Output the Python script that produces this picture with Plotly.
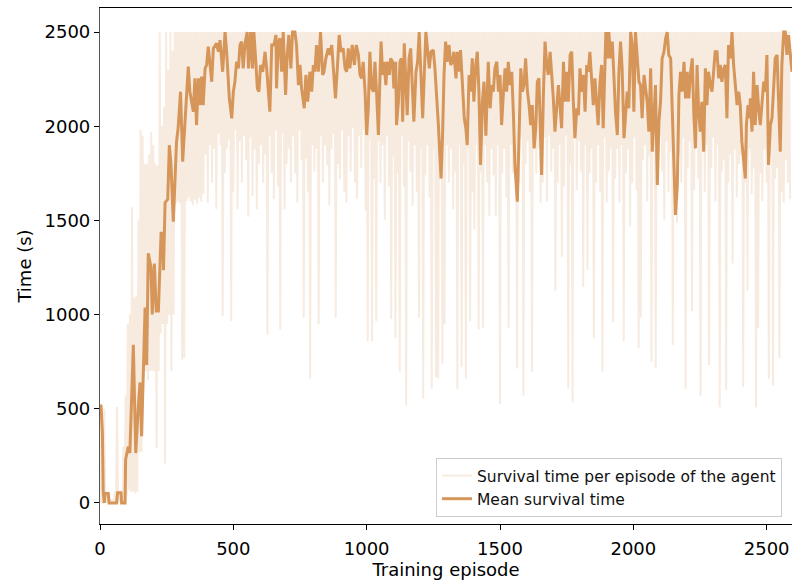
import plotly.graph_objects as go

# ---------------- data ----------------
CAP = 2500          # survival time is capped at 2500 s
BIN = 8             # episodes per raw-data bin

# per-bin maximum of the raw survival time for the first bins (afterwards = CAP)
raw_high_early = [520, 60, 500, 60, 30, 20, 20, 60, 510, 60,
                  60, 300, 570, 950, 1000, 1570, 1090, 1100, 1500, 1980,
                  1950, 1800, 1800, 1850, 1970, 1900, 1800, 1790, 2500, 2000,
                  2100, 2500, 2300, 2500, 2400, 2500]

# per-bin minimum of the raw survival time
raw_low = [
    0, 0, 0, 0, 0, 0, 0, 0, 0, 0,
    0, 0, 40, 70, 60, 60, 50, 60, 270, 270,
    700, 700, 650, 700, 700, 700, 290, 700, 900, 950,
    210, 950, 1000, 700, 1000, 1590, 1600, 1590, 760, 770,
    1600, 1620, 1600, 1580, 1610, 1590, 1620, 1600, 1640, 1850,
    1594, 1900, 1700, 1880, 1560, 1960, 1900, 992, 1750, 1880,
    1930, 965, 1650, 1980, 1558, 1920, 1700, 1950, 1820, 1520,
    1940, 1630, 1880, 1558, 1800, 1900, 1700, 1850, 894, 1950,
    1750, 1612, 1980, 1680, 921, 1960, 1558, 1800, 1880, 1700,
    1950, 1750, 1594, 1980, 1820, 983, 1827, 1650, 660, 1900,
    1760, 1880, 948, 1950, 1700, 1900, 1791, 1580, 1880, 1960,
    983, 1800, 1719, 1980, 1650, 1594, 1950, 1760, 1990, 1700,
    1612, 1950, 1780, 1980, 1550, 858, 1930, 858, 1720, 965,
    1920, 1700, 1900, 1504, 1950, 1680, 975, 1840, 876, 1750,
    696, 1950, 1680, 517, 1920, 1760, 1576, 1900, 1650, 983,
    1880, 553, 1740, 1900, 1620, 607, 1880, 669, 660, 1720,
    741, 948, 1900, 1700, 1880, 1558, 1760, 607, 1900, 723,
    1800, 660, 1880, 965, 1650, 1450, 1900, 921, 1760, 930,
    1900, 1700, 1522, 1880, 1740, 1522, 1900, 526, 1750, 1880,
    1620, 930, 1900, 1750, 1860, 714, 1700, 1940, 571, 1800,
    1920, 1650, 696, 1900, 1750, 1880, 1594, 1700, 1940, 1600,
    1950, 1760, 1880, 1127, 1700, 1900, 1307, 1680, 1950, 607,
    1800, 535, 1940, 1660, 1920, 1760, 1145, 1900, 1235, 1750,
    1880, 876, 1700, 1900, 1650, 696, 1940, 1594, 1760, 1880,
    960, 1720, 1880, 1594, 1900, 858, 1750, 1880, 1468, 1700,
    1940, 1660, 822, 983, 1820, 1900, 1600, 1840, 750, 1880,
    714, 1700, 1950, 1760, 1504, 1920, 1650, 1860, 840, 1750,
    1486, 1850, 1700, 1940, 607, 1780, 1920, 1019, 1660, 1900,
    1720, 571, 1920, 1650, 1900, 732, 1780, 1940, 1600, 1900,
    508, 1760, 1820, 598, 1700, 1850, 1271, 1880, 1620, 1800,
    1850, 616, 1700, 1127, 1880, 1640, 1780, 508, 930, 1750,
    1600, 1880, 1700, 660, 1850, 625, 1720, 1780, 768, 1650,
    1594, 1820, 1700, 1612,
]

# mean survival time: episode / value vertices
mean_ep = [
    0, 4, 9, 12, 16, 19, 31, 34, 62, 66, 79, 81, 94, 96, 106, 112, 125, 134, 144, 150,
    156, 169, 175, 181, 191, 196, 204, 211, 219, 225, 229, 235, 238, 244, 254, 260, 266, 275, 287, 293,
    302, 310, 319, 331, 337, 350, 356, 362, 369, 375, 381, 387, 394, 400, 406, 412, 419, 425, 437, 444,
    450, 460, 469, 475, 485, 494, 500, 506, 512, 519, 525, 531, 537, 544, 552, 557, 565, 572, 577, 585,
    590, 596, 602, 610, 619, 625, 632, 637, 644, 652, 660, 662, 669, 675, 681, 687, 696, 702, 708, 716,
    722, 731, 737, 744, 750, 756, 766, 772, 779, 787, 794, 800, 806, 812, 819, 827, 835, 840, 847, 856,
    862, 869, 876, 883, 890, 897, 904, 912, 919, 925, 931, 937, 946, 954, 961, 969, 975, 981, 987, 994,
    1000, 1006, 1012, 1019, 1026, 1031, 1037, 1044, 1050, 1054, 1060, 1065, 1072, 1077, 1085, 1090, 1097, 1102, 1109, 1112,
    1119, 1125, 1130, 1135, 1141, 1147, 1152, 1159, 1165, 1171, 1177, 1185, 1191, 1197, 1204, 1210, 1216, 1222, 1229, 1235,
    1241, 1250, 1256, 1262, 1269, 1275, 1279, 1285, 1290, 1296, 1302, 1309, 1315, 1322, 1327, 1335, 1340, 1346, 1352, 1360,
    1366, 1372, 1377, 1384, 1390, 1396, 1402, 1409, 1415, 1421, 1427, 1434, 1440, 1447, 1456, 1463, 1469, 1475, 1481, 1488,
    1494, 1500, 1506, 1513, 1519, 1525, 1531, 1538, 1544, 1550, 1556, 1565, 1571, 1578, 1584, 1590, 1596, 1603, 1609, 1615,
    1621, 1628, 1634, 1640, 1646, 1653, 1656, 1663, 1669, 1675, 1681, 1688, 1694, 1700, 1706, 1713, 1719, 1725, 1731, 1738,
    1744, 1750, 1756, 1763, 1769, 1775, 1781, 1788, 1794, 1800, 1806, 1813, 1819, 1825, 1831, 1837, 1843, 1850, 1856, 1862,
    1868, 1875, 1881, 1887, 1893, 1897, 1903, 1908, 1915, 1921, 1927, 1933, 1940, 1946, 1952, 1958, 1965, 1971, 1977, 1983,
    1990, 1996, 2002, 2008, 2015, 2021, 2027, 2033, 2040, 2046, 2052, 2058, 2065, 2071, 2077, 2083, 2090, 2096, 2102, 2108,
    2115, 2121, 2127, 2133, 2140, 2146, 2152, 2158, 2165, 2171, 2177, 2183, 2190, 2196, 2202, 2208, 2215, 2221, 2227, 2233,
    2239, 2245, 2251, 2257, 2264, 2270, 2276, 2282, 2289, 2295, 2301, 2307, 2314, 2320, 2326, 2332, 2339, 2345, 2351, 2357,
    2364, 2370, 2376, 2382, 2389, 2395, 2401, 2407, 2414, 2420, 2424, 2430, 2435, 2439, 2445, 2451, 2457, 2464, 2470, 2476,
    2482, 2489, 2495, 2501, 2507, 2514, 2520, 2526, 2532, 2539, 2545, 2551, 2557, 2564, 2570, 2576, 2582, 2589, 2595,
]
mean_val = [
    520, 515, 373, 60, 0, 50, 50, 0, 0, 54, 54, 0, 0, 230, 300, 265, 840, 265, 517, 640,
    355, 1037, 732, 1325, 1253, 1001, 1271, 1019, 1019, 1235, 1432, 1432, 1235, 1594, 1612, 1899, 1800, 1493, 1918, 1990,
    2183, 1812, 2024, 2316, 2183, 2077, 2254, 2006, 2254, 2112, 2263, 2112, 2307, 2325, 2422, 2342, 2236, 2413, 2440, 2395,
    2457, 2289, 2500, 2395, 2148, 2042, 2183, 2236, 2342, 2307, 2431, 2449, 2307, 2440, 2500, 2307, 2500, 2307, 2500, 2325,
    2201, 2183, 2325, 2289, 2395, 2307, 2166, 2077, 2431, 2431, 2484, 2201, 2449, 2466, 2289, 2500, 2166, 2378, 2484, 2307,
    2500, 2500, 2431, 2218, 2325, 2201, 2095, 2272, 2130, 2289, 2183, 2325, 2289, 2431, 2289, 2500, 2272, 2289, 2360, 2413,
    2378, 2431, 2289, 2148, 2307, 2484, 2395, 2413, 2307, 2289, 2413, 2307, 2431, 2325, 2431, 2378, 2272, 2254, 2342, 2183,
    1953, 2095, 2395, 2201, 2183, 2342, 2183, 1953, 2272, 2449, 2272, 2342, 2218, 2342, 2272, 2360, 2342, 2201, 2342, 2006,
    2130, 2342, 2360, 2024, 2440, 2272, 2059, 2360, 2413, 2218, 2024, 2289, 2342, 2500, 2289, 2042, 2272, 2500, 2395, 2307,
    2395, 2404, 2307, 2183, 2006, 1829, 1723, 1971, 2272, 2449, 2342, 2431, 2325, 2342, 2395, 2254, 2395, 2289, 2404, 2201,
    2042, 1989, 1900, 2272, 2183, 2360, 2130, 2325, 2395, 2183, 1794, 2130, 2236, 1950, 2342, 2095, 2218, 2183, 2307, 2342,
    2183, 2272, 2006, 2183, 2307, 2183, 2342, 2218, 2289, 2077, 1794, 1599, 2006, 2307, 2183, 2218, 2360, 2183, 2112, 2006,
    2112, 1882, 1989, 2236, 2254, 1882, 1741, 2183, 2449, 2325, 2272, 2395, 2289, 2148, 1971, 2112, 2218, 2112, 1989, 2342,
    2130, 2289, 2130, 2378, 2395, 2130, 1936, 2095, 2059, 2307, 2183, 2272, 2077, 2325, 2289, 2395, 2254, 2112, 2254, 2112,
    2006, 2236, 2325, 1989, 2272, 2500, 2360, 2500, 2360, 2449, 2272, 2077, 1953, 2289, 2449, 2307, 1936, 2095, 2183, 2095,
    2500, 2431, 2077, 2500, 2325, 2236, 2218, 2042, 2272, 2183, 2130, 1971, 2307, 1865, 2059, 2218, 1688, 2024, 2130, 2360,
    2395, 2466, 2500, 2378, 2360, 2095, 1865, 1529, 1688, 2166, 2289, 2183, 2342, 2148, 2289, 2148, 2289, 2360, 2059, 1882,
    2325, 2077, 1971, 2130, 1865, 2307, 2112, 2289, 2218, 2183, 2289, 2395, 2395, 2254, 2325, 2236, 2307, 2325, 2042, 2431,
    2360, 2500, 2325, 2236, 2112, 2183, 2112, 1918, 1794, 1723, 2006, 2112, 2042, 2148, 1971, 2289, 2006, 2218, 2095, 2006,
    2112, 2236, 2183, 2378, 1794, 2006, 2042, 2218, 2360, 2378, 2112, 1865, 2325, 2500, 2500, 2378, 2484, 2360, 2289,
]

x_ticks = [0, 500, 1000, 1500, 2000, 2500]
y_ticks = [0, 500, 1000, 1500, 2000, 2500]

# ---------------- build raw per-episode trace ----------------
raw_high = raw_high_early + [CAP] * (len(raw_low) - len(raw_high_early))
raw_x, raw_y = [], []
for i, (hi, lo) in enumerate(zip(raw_high, raw_low)):
    raw_x += [i * BIN, i * BIN + BIN // 2]
    raw_y += [hi, lo]

MEAN_COLOR = "#d6965a"
RAW_COLOR = "#f7ebe0"
FONT = "DejaVu Sans"

fig = go.Figure()
fig.add_trace(go.Scatter(
    x=raw_x, y=raw_y, mode="lines",
    line=dict(color=RAW_COLOR, width=2),
    name="Survival time per episode of the agent",
))
fig.add_trace(go.Scatter(
    x=mean_ep, y=mean_val, mode="lines",
    line=dict(color=MEAN_COLOR, width=3),
    name="Mean survival time",
))

fig.update_layout(
    width=792, height=580,
    margin=dict(l=100, r=0, t=8, b=56),
    paper_bgcolor="white", plot_bgcolor="white",
    font=dict(family=FONT, size=18, color="black"),
    showlegend=True,
    legend=dict(
        x=0.9855, y=0.0136, xanchor="right", yanchor="bottom",
        bgcolor="rgba(255,255,255,0.8)", bordercolor="#cccccc", borderwidth=1,
        font=dict(family=FONT, size=15.5, color="#111111"),
        tracegroupgap=0, itemwidth=30,
    ),
)
fig.update_xaxes(
    range=[0, 2595], tickvals=x_ticks, ticktext=[str(v) for v in x_ticks],
    showgrid=False, zeroline=False,
    showline=True, linecolor="black", linewidth=1.2, mirror=True,
    ticks="outside", ticklen=5, tickwidth=1, tickcolor="black",
    tickfont=dict(family=FONT, size=18), ticklabelstandoff=3,
    title=dict(text="Training episode", font=dict(family=FONT, size=18), standoff=4),
)
fig.update_yaxes(
    range=[-111.5, 2627.4], tickvals=y_ticks, ticktext=[str(v) for v in y_ticks],
    showgrid=False, zeroline=False,
    showline=True, linecolor="#555555", linewidth=1.2,
    ticks="outside", ticklen=5, tickwidth=1, tickcolor="black",
    tickfont=dict(family=FONT, size=18),
    title=dict(text="Time (s)", font=dict(family=FONT, size=18), standoff=8),
)

fig.write_html("out.html")
